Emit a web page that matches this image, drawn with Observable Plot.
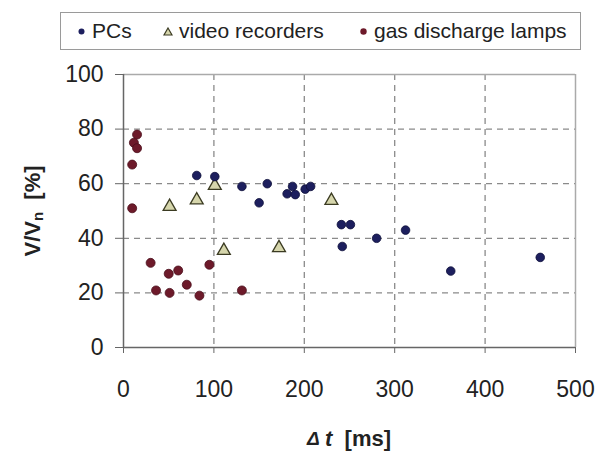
<!DOCTYPE html>
<html>
<head>
<meta charset="utf-8">
<script src="https://cdn.jsdelivr.net/npm/d3@7"></script>
<script src="https://cdn.jsdelivr.net/npm/@observablehq/plot@0.6"></script>
<style>
  body { margin: 0; background: #fff; }
  #wrap { position: relative; width: 609px; height: 458px; font-family: "Liberation Sans", Arial, sans-serif; }
  #legend { position: absolute; left: 60px; top: 12px; width: 519px; height: 36px; border: 1px solid #9a9a9a; background: #fff; }
  .item { position: absolute; top: 0; height: 36px; line-height: 36px; font-size: 21px; color: #222; white-space: nowrap; }
  .item svg { vertical-align: middle; margin-right: 6px; position: relative; top: -1px; }
</style>
</head>
<body>
<div id="wrap"></div>
<script>
// ---- data ----
const seriesNames = ["PCs", "video recorders", "gas discharge lamps"];

const pcsT = [81, 101, 131, 150, 159, 181, 187, 190, 201, 207, 241, 251, 242, 280, 312, 362, 461];
const pcsV = [63, 62.6, 59, 53, 60, 56.3, 59, 56, 58, 59, 45, 45, 37, 40, 43, 28, 33];

const vcrT = [51, 81, 101, 111, 172, 230];
const vcrV = [51.6, 54, 59.3, 35.5, 36.5, 53.8];

const lampT = [15, 11.5, 15, 9.6, 9.6, 30, 50, 60.5, 95, 70, 36, 51, 84, 131];
const lampV = [78, 75, 73, 67, 51, 31, 27, 28.2, 30.3, 23, 20.9, 20, 19, 20.9];

const xTicks = [0, 100, 200, 300, 400, 500];
const yTicks = [0, 20, 40, 60, 80, 100];

// ---- tables ----
const pcs = pcsT.map((t, i) => ({t, v: pcsV[i]}));
const vcr = vcrT.map((t, i) => ({t, v: vcrV[i]}));
const lamps = lampT.map((t, i) => ({t, v: lampV[i]}));

const colPC = "#1d1f5e", colVCR = "#d6d6ac", colVCRs = "#3b3b22", colLamp = "#6d1a2a";

const plot = Plot.plot({
  width: 609,
  height: 458,
  marginLeft: 123,
  marginRight: 34,
  marginTop: 74,
  marginBottom: 111,
  style: {fontFamily: "'Liberation Sans', Arial, sans-serif", fontSize: "23px", background: "white", color: "#222"},
  x: {domain: [0, 500], label: null},
  y: {domain: [0, 100], label: null},
  marks: [
    Plot.ruleY(yTicks.filter(d => d > 0 && d < 100), {stroke: "#8a8a8a", strokeWidth: 1.3, strokeDasharray: "6,5"}),
    Plot.ruleX(xTicks.filter(d => d > 0 && d < 500), {stroke: "#8a8a8a", strokeWidth: 1.3, strokeDasharray: "6,5"}),
    Plot.ruleY([100], {stroke: "#aaa", strokeWidth: 1.5}),
    Plot.ruleX([500], {stroke: "#aaa", strokeWidth: 1.5}),
    Plot.ruleY([0], {stroke: "#666", strokeWidth: 1.5}),
    Plot.ruleX([0], {stroke: "#666", strokeWidth: 1.5}),
    Plot.axisX({ticks: xTicks, tickSize: 6, tickPadding: 27, stroke: "#666", fontSize: 23, label: null}),
    Plot.axisY({ticks: yTicks, tickSize: 8, tickPadding: 12, stroke: "#666", fontSize: 23, label: null}),
    Plot.dot(lamps, {x: "t", y: "v", r: 4.5, fill: colLamp, stroke: "#4a0f1c", strokeWidth: 0.8}),
    Plot.dot(vcr, {x: "t", y: "v", symbol: "triangle", r: 4.8, fill: colVCR, stroke: colVCRs, strokeWidth: 1.3}),
    Plot.dot(pcs, {x: "t", y: "v", r: 4.3, fill: colPC, stroke: "#0e0f3a", strokeWidth: 0.8})
  ]
});

const wrap = document.getElementById("wrap");
wrap.appendChild(plot);

// axis titles as real text with rich formatting
const svg = d3.select(plot);
const yl = svg.append("text")
  .attr("transform", "translate(34,211) rotate(-90)")
  .attr("text-anchor", "middle")
  .attr("dominant-baseline", "middle")
  .attr("font-family", "'Liberation Sans', Arial, sans-serif")
  .attr("font-weight", "bold")
  .attr("font-size", 22)
  .attr("fill", "#222");
yl.append("tspan").text("V/V");
yl.append("tspan").attr("font-size", 15).attr("dy", 5).text("n");
yl.append("tspan").attr("dy", -5).text("\u00a0\u00a0[%]");

const xl = svg.append("text")
  .attr("x", 349).attr("y", 440)
  .attr("text-anchor", "middle")
  .attr("dominant-baseline", "middle")
  .attr("font-family", "'Liberation Sans', Arial, sans-serif")
  .attr("font-weight", "bold")
  .attr("font-size", 22)
  .attr("fill", "#222");
xl.append("tspan").attr("font-style", "italic").attr("font-size", 19).text("\u0394\u00a0");
xl.append("tspan").attr("font-style", "italic").text("t");
xl.append("tspan").text("\u00a0\u00a0[ms]");

// legend
const legend = document.createElement("div");
legend.id = "legend";
const items = [
  {name: seriesNames[0], left: 16, sym: `<svg width="9" height="9"><circle cx="4.5" cy="4.5" r="3" fill="${colPC}"/></svg>`},
  {name: seriesNames[1], left: 102, sym: `<svg width="10" height="9"><path d="M5,1 L9,8 L1,8 Z" fill="${colVCR}" stroke="${colVCRs}" stroke-width="1.2"/></svg>`},
  {name: seriesNames[2], left: 298, sym: `<svg width="9" height="9"><circle cx="4.5" cy="4.5" r="3.2" fill="${colLamp}"/></svg>`}
];
for (const it of items) {
  const s = document.createElement("span");
  s.className = "item";
  s.style.left = it.left + "px";
  s.innerHTML = it.sym + it.name;
  legend.appendChild(s);
}
wrap.appendChild(legend);
</script>
</body>
</html>
